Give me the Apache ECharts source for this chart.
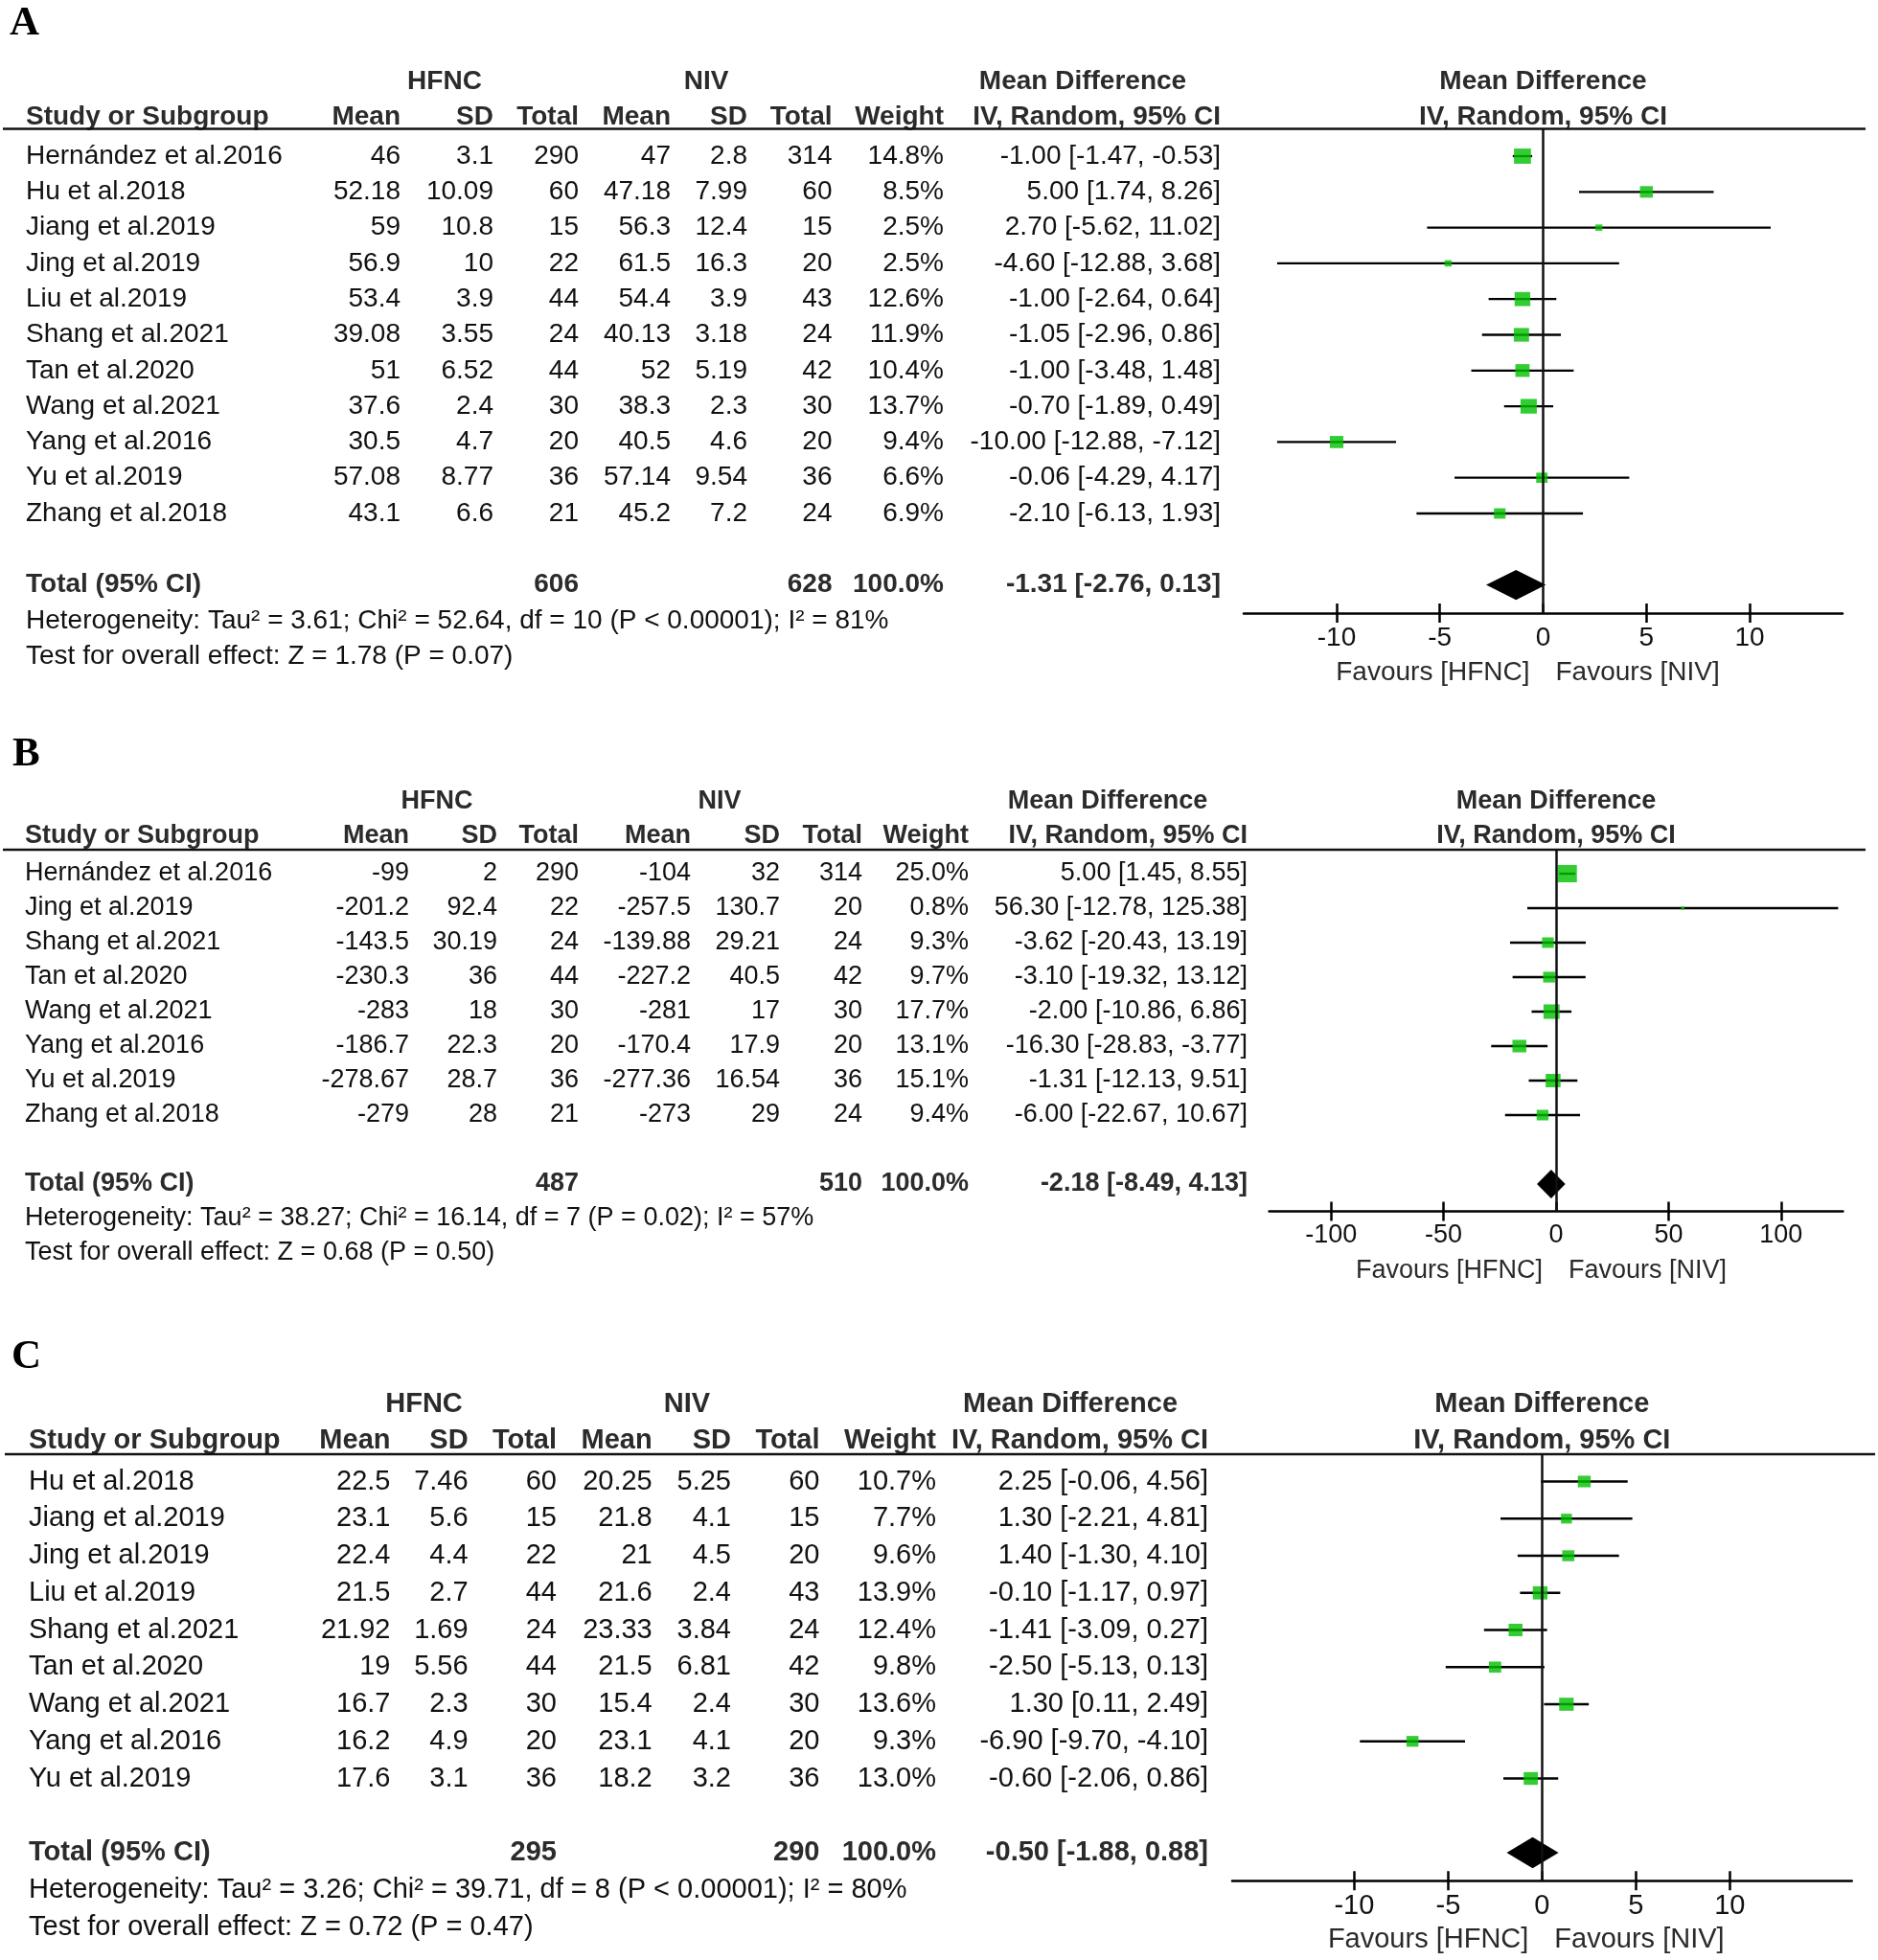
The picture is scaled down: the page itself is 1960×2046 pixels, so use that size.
<!DOCTYPE html>
<html><head><meta charset="utf-8">
<script src="https://cdn.jsdelivr.net/npm/echarts@6/dist/echarts.min.js"></script>
<style>html,body{margin:0;padding:0;background:#fff}#c{width:1960px;height:2046px}</style>
</head><body><div id="c"></div>
<script>
// ---------------- Panel A data ----------------
const studiesA = ['Hernández et al.2016','Hu et al.2018','Jiang et al.2019','Jing et al.2019','Liu et al.2019','Shang et al.2021','Tan et al.2020','Wang et al.2021','Yang et al.2016','Yu et al.2019','Zhang et al.2018'];
const hfncMeanA = [46, 52.18, 59, 56.9, 53.4, 39.08, 51, 37.6, 30.5, 57.08, 43.1];
const hfncSdA   = [3.1, 10.09, 10.8, 10, 3.9, 3.55, 6.52, 2.4, 4.7, 8.77, 6.6];
const hfncNA    = [290, 60, 15, 22, 44, 24, 44, 30, 20, 36, 21];
const nivMeanA  = [47, 47.18, 56.3, 61.5, 54.4, 40.13, 52, 38.3, 40.5, 57.14, 45.2];
const nivSdA    = [2.8, 7.99, 12.4, 16.3, 3.9, 3.18, 5.19, 2.3, 4.6, 9.54, 7.2];
const nivNA     = [314, 60, 15, 20, 43, 24, 42, 30, 20, 36, 24];
const weightA   = [14.8, 8.5, 2.5, 2.5, 12.6, 11.9, 10.4, 13.7, 9.4, 6.6, 6.9];
const mdA       = [-1.00, 5.00, 2.70, -4.60, -1.00, -1.05, -1.00, -0.70, -10.00, -0.06, -2.10];
const loA       = [-1.47, 1.74, -5.62, -12.88, -2.64, -2.96, -3.48, -1.89, -12.88, -4.29, -6.13];
const hiA       = [-0.53, 8.26, 11.02, 3.68, 0.64, 0.86, 1.48, 0.49, -7.12, 4.17, 1.93];
const totalA    = {hfncN: 606, nivN: 628, weight: 100.0, md: -1.31, lo: -2.76, hi: 0.13};
const hetA  = 'Heterogeneity: Tau² = 3.61; Chi² = 52.64, df = 10 (P < 0.00001); I² = 81%';
const testA = 'Test for overall effect: Z = 1.78 (P = 0.07)';
const ticksA = [-10, -5, 0, 5, 10];

// ---------------- Panel B data ----------------
const studiesB = ['Hernández et al.2016','Jing et al.2019','Shang et al.2021','Tan et al.2020','Wang et al.2021','Yang et al.2016','Yu et al.2019','Zhang et al.2018'];
const hfncMeanB = [-99, -201.2, -143.5, -230.3, -283, -186.7, -278.67, -279];
const hfncSdB   = [2, 92.4, 30.19, 36, 18, 22.3, 28.7, 28];
const hfncNB    = [290, 22, 24, 44, 30, 20, 36, 21];
const nivMeanB  = [-104, -257.5, -139.88, -227.2, -281, -170.4, -277.36, -273];
const nivSdB    = [32, 130.7, 29.21, 40.5, 17, 17.9, 16.54, 29];
const nivNB     = [314, 20, 24, 42, 30, 20, 36, 24];
const weightB   = [25.0, 0.8, 9.3, 9.7, 17.7, 13.1, 15.1, 9.4];
const mdB       = [5.00, 56.30, -3.62, -3.10, -2.00, -16.30, -1.31, -6.00];
const loB       = [1.45, -12.78, -20.43, -19.32, -10.86, -28.83, -12.13, -22.67];
const hiB       = [8.55, 125.38, 13.19, 13.12, 6.86, -3.77, 9.51, 10.67];
const totalB    = {hfncN: 487, nivN: 510, weight: 100.0, md: -2.18, lo: -8.49, hi: 4.13};
const hetB  = 'Heterogeneity: Tau² = 38.27; Chi² = 16.14, df = 7 (P = 0.02); I² = 57%';
const testB = 'Test for overall effect: Z = 0.68 (P = 0.50)';
const ticksB = [-100, -50, 0, 50, 100];

// ---------------- Panel C data ----------------
const studiesC = ['Hu et al.2018','Jiang et al.2019','Jing et al.2019','Liu et al.2019','Shang et al.2021','Tan et al.2020','Wang et al.2021','Yang et al.2016','Yu et al.2019'];
const hfncMeanC = [22.5, 23.1, 22.4, 21.5, 21.92, 19, 16.7, 16.2, 17.6];
const hfncSdC   = [7.46, 5.6, 4.4, 2.7, 1.69, 5.56, 2.3, 4.9, 3.1];
const hfncNC    = [60, 15, 22, 44, 24, 44, 30, 20, 36];
const nivMeanC  = [20.25, 21.8, 21, 21.6, 23.33, 21.5, 15.4, 23.1, 18.2];
const nivSdC    = [5.25, 4.1, 4.5, 2.4, 3.84, 6.81, 2.4, 4.1, 3.2];
const nivNC     = [60, 15, 20, 43, 24, 42, 30, 20, 36];
const weightC   = [10.7, 7.7, 9.6, 13.9, 12.4, 9.8, 13.6, 9.3, 13.0];
const mdC       = [2.25, 1.30, 1.40, -0.10, -1.41, -2.50, 1.30, -6.90, -0.60];
const loC       = [-0.06, -2.21, -1.30, -1.17, -3.09, -5.13, 0.11, -9.70, -2.06];
const hiC       = [4.56, 4.81, 4.10, 0.97, 0.27, 0.13, 2.49, -4.10, 0.86];
const totalC    = {hfncN: 295, nivN: 290, weight: 100.0, md: -0.50, lo: -1.88, hi: 0.88};
const hetC  = 'Heterogeneity: Tau² = 3.26; Chi² = 39.71, df = 8 (P < 0.00001); I² = 80%';
const testC = 'Test for overall effect: Z = 0.72 (P = 0.47)';
const ticksC = [-10, -5, 0, 5, 10];

// ---------------- shared labels ----------------
const panelLetters = ['A', 'B', 'C'];
const groupHeads = ['HFNC', 'NIV', 'Mean Difference', 'Mean Difference'];
const colHeads = ['Study or Subgroup', 'Mean', 'SD', 'Total', 'Mean', 'SD', 'Total', 'Weight', 'IV, Random, 95% CI', 'IV, Random, 95% CI'];
const totalLabel = 'Total (95% CI)';
const favours = ['Favours [HFNC]', 'Favours [NIV]'];

// ---------------- layout (pixels) ----------------
const FONT = "'Liberation Sans', Arial, Helvetica, sans-serif";
const SERIF = "'Liberation Serif', 'Times New Roman', serif";
const layouts = [
  {letterX: 10, letterY: 25, top: 134.5, axisY: 640, row0: 163, step: 37.3, fs: 28,
   xL: 1298, xR: 1923, xMin: -14.5, xMax: 14.5, studyX: 27,
   cols: [418, 515, 604, 700, 780, 868.5, 985, 1274], hfncC: 464, nivC: 737, mdC: 1130,
   lineL: 3, lineR: 1947, k: 4.6},
  {letterX: 13, letterY: 788, top: 887, axisY: 1264.5, row0: 912, step: 36.0, fs: 27,
   xL: 1324.6, xR: 1923.4, xMin: -127.5, xMax: 127.5, studyX: 26,
   cols: [427, 519, 604, 721, 814, 900, 1011, 1302], hfncC: 456, nivC: 751, mdC: 1156,
   lineL: 3, lineR: 1947, k: 4.0},
  {letterX: 12, letterY: 1417, top: 1518, axisY: 1963.3, row0: 1546.5, step: 38.75, fs: 29,
   xL: 1286, xR: 1932.7, xMin: -16.5, xMax: 16.5, studyX: 30,
   cols: [407.5, 488.6, 581, 680.7, 763, 855.5, 977, 1261], hfncC: 442.5, nivC: 717, mdC: 1117,
   lineL: 5, lineR: 1957, k: 4.1}
];

const panels = [
  {studies: studiesA, hm: hfncMeanA, hs: hfncSdA, hn: hfncNA, nm: nivMeanA, ns: nivSdA, nn: nivNA, w: weightA, md: mdA, lo: loA, hi: hiA, tot: totalA, het: hetA, test: testA, ticks: ticksA},
  {studies: studiesB, hm: hfncMeanB, hs: hfncSdB, hn: hfncNB, nm: nivMeanB, ns: nivSdB, nn: nivNB, w: weightB, md: mdB, lo: loB, hi: hiB, tot: totalB, het: hetB, test: testB, ticks: ticksB},
  {studies: studiesC, hm: hfncMeanC, hs: hfncSdC, hn: hfncNC, nm: nivMeanC, ns: nivSdC, nn: nivNC, w: weightC, md: mdC, lo: loC, hi: hiC, tot: totalC, het: hetC, test: testC, ticks: ticksC}
];

const ciText = (m, l, h) => m.toFixed(2) + ' [' + l.toFixed(2) + ', ' + h.toFixed(2) + ']';

function txt(x, y, s, L, opt) {
  opt = opt || {};
  return {type: 'text', x: x, y: y, silent: true,
    style: {text: s, fontSize: opt.fs || L.fs, fontFamily: opt.family || FONT,
      fontWeight: opt.bold ? 'bold' : 'normal', fill: opt.color || (opt.bold ? '#2b2b2b' : '#111'),
      align: opt.align || 'right', verticalAlign: 'middle'}};
}

const option = {backgroundColor: '#fff', animation: false, grid: [], xAxis: [], yAxis: [], series: []};

panels.forEach((D, p) => {
  const L = layouts[p];
  const n = D.studies.length;
  const yMin = (L.top - L.row0) / L.step;
  const yMax = (L.axisY - L.row0) / L.step;
  option.grid.push({left: L.xL, top: L.top, width: L.xR - L.xL, height: L.axisY - L.top, containLabel: false});
  const axBase = {type: 'value', gridIndex: p, min: L.xMin, max: L.xMax, position: 'bottom', splitLine: {show: false}};
  option.xAxis.push(Object.assign({}, axBase, {
    axisLine: {show: true, onZero: false, lineStyle: {color: '#000', width: 2.5}},
    axisTick: {show: true, inside: true, length: 10, customValues: D.ticks, lineStyle: {color: '#000', width: 2.5}},
    axisLabel: {show: true, customValues: D.ticks, margin: 12, fontSize: L.fs, fontFamily: FONT, color: '#111'}
  }));
  option.xAxis.push(Object.assign({}, axBase, {
    axisLine: {show: false, onZero: false},
    axisTick: {show: true, inside: false, length: 10, customValues: D.ticks.filter(v => v !== 0), lineStyle: {color: '#000', width: 2.5}},
    axisLabel: {show: false}
  }));
  option.yAxis.push({type: 'value', gridIndex: p, inverse: true, min: yMin, max: yMax, show: false});
  const xi = 2 * p, yi = p;

  // CI whiskers
  option.series.push({type: 'custom', xAxisIndex: xi, yAxisIndex: yi, clip: false, silent: true, z: 2,
    data: D.md.map((m, i) => [D.lo[i], D.hi[i], i]),
    encode: {x: [0, 1], y: 2},
    renderItem: (params, api) => {
      const a = api.coord([api.value(0), api.value(2)]);
      const b = api.coord([api.value(1), api.value(2)]);
      return {type: 'line', shape: {x1: a[0], y1: a[1], x2: b[0], y2: b[1]}, style: {stroke: '#000', lineWidth: 2.3}};
    }});

  // squares + zero line
  option.series.push({type: 'scatter', xAxisIndex: xi, yAxisIndex: yi, silent: true, z: 3,
    data: D.md.map((m, i) => [m, i, D.w[i]]),
    symbol: 'rect',
    symbolSize: v => { const s = L.k * Math.sqrt(v[2]); return [s, s * 0.9]; },
    itemStyle: {color: '#00c000'},
    markLine: {silent: true, symbol: ['none', 'none'], label: {show: false},
      lineStyle: {color: '#111', width: 2.5, type: 'solid'}, data: [{xAxis: 0}]}
  });

  // summary diamond
  option.series.push({type: 'custom', xAxisIndex: xi, yAxisIndex: yi, clip: false, silent: true, z: 3,
    data: [[D.tot.md, D.tot.lo, D.tot.hi, n + 1]],
    encode: {x: [0, 1, 2], y: 3},
    renderItem: (params, api) => {
      const r = api.value(3);
      const c = api.coord([api.value(0), r]);
      const l = api.coord([api.value(1), r]);
      const h = api.coord([api.value(2), r]);
      const hh = 0.42 * L.step;
      return {type: 'polygon', shape: {points: [[l[0], c[1]], [c[0], c[1] - hh], [h[0], c[1]], [c[0], c[1] + hh]]},
        style: {fill: '#000'}};
    }});

  // study rows (table)
  option.series.push({type: 'custom', xAxisIndex: xi, yAxisIndex: yi, clip: false, silent: true,
    data: D.studies.map((s, i) => [0, i]),
    encode: {x: 0, y: 1},
    renderItem: (params, api) => {
      const i = params.dataIndex;
      const y = api.coord([0, api.value(1)])[1];
      const C = L.cols;
      return {type: 'group', children: [
        txt(L.studyX, y, D.studies[i], L, {align: 'left'}),
        txt(C[0], y, String(D.hm[i]), L),
        txt(C[1], y, String(D.hs[i]), L),
        txt(C[2], y, String(D.hn[i]), L),
        txt(C[3], y, String(D.nm[i]), L),
        txt(C[4], y, String(D.ns[i]), L),
        txt(C[5], y, String(D.nn[i]), L),
        txt(C[6], y, D.w[i].toFixed(1) + '%', L),
        txt(C[7], y, ciText(D.md[i], D.lo[i], D.hi[i]), L)
      ]};
    }});

  // headers, total row, footers, favours labels, panel letter
  option.series.push({type: 'custom', xAxisIndex: xi, yAxisIndex: yi, clip: false, silent: true,
    data: [[0, 0]],
    encode: {x: 0, y: 1},
    renderItem: (params, api) => {
      const C = L.cols;
      const yh1 = api.coord([0, -2.09])[1];
      const yh2 = api.coord([0, -1.1])[1];
      const yLine = api.coord([0, yMin])[1];
      const yTot = api.coord([0, n + 1])[1];
      const yHet = api.coord([0, n + 2])[1];
      const yTest = api.coord([0, n + 3])[1];
      const zeroX = api.coord([0, 0])[0];
      const B = {bold: true};
      return {type: 'group', children: [
        {type: 'text', x: L.letterX, y: L.letterY, silent: true,
          style: {text: panelLetters[p], fontSize: 43, fontFamily: SERIF, fontWeight: 'bold', fill: '#000', align: 'left', verticalAlign: 'middle'}},
        txt(L.hfncC, yh1, groupHeads[0], L, {bold: true, align: 'center'}),
        txt(L.nivC, yh1, groupHeads[1], L, {bold: true, align: 'center'}),
        txt(L.mdC, yh1, groupHeads[2], L, {bold: true, align: 'center'}),
        txt(zeroX, yh1, groupHeads[3], L, {bold: true, align: 'center'}),
        txt(L.studyX, yh2, colHeads[0], L, {bold: true, align: 'left'}),
        txt(C[0], yh2, colHeads[1], L, B),
        txt(C[1], yh2, colHeads[2], L, B),
        txt(C[2], yh2, colHeads[3], L, B),
        txt(C[3], yh2, colHeads[4], L, B),
        txt(C[4], yh2, colHeads[5], L, B),
        txt(C[5], yh2, colHeads[6], L, B),
        txt(C[6], yh2, colHeads[7], L, B),
        txt(C[7], yh2, colHeads[8], L, B),
        txt(zeroX, yh2, colHeads[9], L, {bold: true, align: 'center'}),
        {type: 'line', silent: true, shape: {x1: L.lineL, y1: yLine, x2: L.lineR, y2: yLine}, style: {stroke: '#111', lineWidth: 2.6}},
        txt(L.studyX, yTot, totalLabel, L, {bold: true, align: 'left'}),
        txt(C[2], yTot, String(D.tot.hfncN), L, B),
        txt(C[5], yTot, String(D.tot.nivN), L, B),
        txt(C[6], yTot, D.tot.weight.toFixed(1) + '%', L, B),
        txt(C[7], yTot, ciText(D.tot.md, D.tot.lo, D.tot.hi), L, B),
        txt(L.studyX, yHet, D.het, L, {align: 'left'}),
        txt(L.studyX, yTest, D.test, L, {align: 'left'}),
        txt(zeroX - 14, L.axisY + 62, favours[0], L, {align: 'right', color: '#2a2a2a'}),
        txt(zeroX + 13, L.axisY + 62, favours[1], L, {align: 'left', color: '#2a2a2a'})
      ]};
    }});
});

const chart = echarts.init(document.getElementById('c'), null, {renderer: 'canvas'});
chart.setOption(option);
</script>
</body></html>
